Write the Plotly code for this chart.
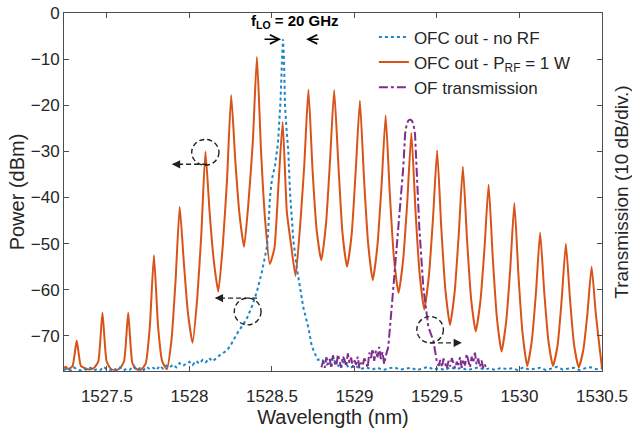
import numpy as np
import plotly.graph_objects as go

# ---------------- data ----------------
# OFC out - P_RF = 1 W  (comb lines spaced ~0.156 nm = 20 GHz)
orange_wl = [
    1527.24, 1527.25,
    1527.267, 1527.292, 1527.317, 1527.342, 1527.367, 1527.395,
    1527.423, 1527.448, 1527.473, 1527.498, 1527.523, 1527.551,
    1527.579, 1527.604, 1527.629, 1527.654, 1527.679, 1527.707,
    1527.735, 1527.760, 1527.785, 1527.810, 1527.835, 1527.863,
    1527.891, 1527.916, 1527.941, 1527.966, 1527.991, 1528.019,
    1528.047, 1528.072, 1528.097, 1528.122, 1528.147, 1528.175,
    1528.203, 1528.228, 1528.253, 1528.278, 1528.303, 1528.331,
    1528.359, 1528.384, 1528.409, 1528.434, 1528.459, 1528.487,
    1528.515, 1528.540, 1528.565, 1528.590, 1528.615, 1528.643,
    1528.671, 1528.696, 1528.721, 1528.746, 1528.771, 1528.799,
    1528.827, 1528.852, 1528.877, 1528.902, 1528.927, 1528.955,
    1528.983, 1529.008, 1529.033, 1529.058, 1529.083, 1529.111,
    1529.139, 1529.164, 1529.189, 1529.214, 1529.239, 1529.267,
    1529.295, 1529.320, 1529.345, 1529.370, 1529.395, 1529.423,
    1529.451, 1529.476, 1529.501, 1529.526, 1529.551, 1529.579,
    1529.607, 1529.632, 1529.657, 1529.682, 1529.707, 1529.735,
    1529.763, 1529.788, 1529.813, 1529.838, 1529.863, 1529.891,
    1529.919, 1529.944, 1529.969, 1529.994, 1530.019, 1530.047,
    1530.075, 1530.100, 1530.125, 1530.150, 1530.175, 1530.203,
    1530.231, 1530.256, 1530.281, 1530.306, 1530.331, 1530.359,
    1530.387, 1530.412, 1530.437, 1530.462, 1530.487, 1530.500,
]
orange_db = [
    -77.0, -76.7,
    -77.2, -76.5, -71.0, -76.5, -77.0, -77.3,
    -76.9, -75.5, -65.0, -75.5, -77.1, -77.4,
    -77.0, -75.5, -65.0, -75.8, -77.2, -77.3,
    -76.0, -68.0, -52.5, -68.0, -75.5, -77.2,
    -71.0, -58.0, -42.0, -54.0, -65.0, -71.5,
    -62.0, -48.0, -30.0, -43.0, -53.5, -60.4,
    -50.0, -36.0, -17.8, -32.0, -43.5, -50.7,
    -40.5, -28.0, -9.5, -30.0, -45.0, -54.4,
    -51.0, -37.0, -23.6, -43.0, -50.0, -57.0,
    -46.0, -33.0, -16.6, -34.0, -47.0, -53.6,
    -46.0, -32.0, -16.7, -32.5, -47.5, -55.0,
    -48.0, -34.0, -19.0, -36.0, -50.0, -57.9,
    -50.5, -37.5, -22.2, -39.0, -53.0, -60.7,
    -53.5, -41.0, -26.0, -43.0, -56.5, -64.3,
    -57.0, -44.5, -29.8, -46.5, -60.0, -67.6,
    -60.5, -48.0, -33.3, -49.0, -62.0, -69.0,
    -62.5, -51.0, -37.2, -53.0, -66.0, -73.4,
    -67.0, -55.5, -41.2, -57.0, -69.5, -76.5,
    -71.0, -60.5, -47.6, -60.5, -71.0, -76.5,
    -72.0, -62.0, -50.0, -62.0, -72.0, -76.8,
    -73.0, -65.0, -55.0, -65.0, -73.0, -76.9,
]

# OFC out - no RF
blue_floor_left_db = [
    -77.4, -77.0, -77.5, -76.8, -77.3, -77.5, -77.1, -77.4, -76.9, -77.5,
    -77.2, -77.4, -76.7, -77.3, -77.5, -77.0, -77.4, -76.8, -77.5, -77.1,
    -77.3, -76.6, -77.4, -77.0, -77.5, -76.7, -77.2, -76.9, -77.4, -76.5,
    -77.1, -76.4, -76.9, -76.2, -76.8, -75.9, -76.5, -76.1, -75.6, -76.3,
    -75.4, -76.0, -75.2, -75.7, -74.8, -75.5, -74.9,
]
blue_floor_left_wl = np.linspace(1527.24, 1528.16, len(blue_floor_left_db))
blue_line_wl = [
    1528.19, 1528.226, 1528.25, 1528.287, 1528.32, 1528.347, 1528.38, 1528.408,
    1528.44, 1528.468, 1528.476, 1528.488, 1528.500, 1528.519, 1528.537,
    1528.552, 1528.561, 1528.567, 1528.573, 1528.579, 1528.590, 1528.599,
    1528.610, 1528.630, 1528.650, 1528.670, 1528.690, 1528.720, 1528.741,
    1528.761, 1528.779,
]
blue_line_db = [
    -74.0, -73.2, -72.0, -69.6, -67.8, -66.3, -63.5, -60.5,
    -56.0, -51.0, -48.0, -40.0, -36.0, -33.0, -28.0,
    -19.0, -10.0, -5.7, -10.0, -20.0, -26.0, -29.8,
    -39.2, -49.3, -55.1, -59.4, -63.8, -68.1, -72.1,
    -73.9, -75.2,
]
blue_floor_right_db = [
    -75.0, -76.2, -74.8, -76.5, -75.6, -77.0, -76.4, -77.2, -76.8, -77.3,
    -76.9, -77.4, -77.0, -76.8, -77.3, -77.1, -76.9, -77.4, -77.0, -76.7,
    -77.3, -77.0, -77.4, -76.8, -77.2, -76.9, -77.4, -77.1, -76.8, -77.3,
    -77.0, -77.4, -76.9, -77.2, -77.0, -77.4, -76.8, -77.3, -77.1, -76.9,
    -77.4, -77.0, -76.7, -77.3, -77.1, -76.9, -77.4, -77.0, -76.8, -77.2, -77.0,
]
blue_floor_right_wl = np.linspace(1528.80, 1530.50, len(blue_floor_right_db))

# OF transmission
purple_floor_left_db = [
    -76.8, -75.5, -76.9, -74.6, -76.2, -75.0, -77.0, -74.2, -75.8, -76.5,
    -74.0, -75.6, -76.9, -74.4, -75.2, -76.6, -73.8, -75.9, -74.7, -76.8,
    -75.3, -76.2, -74.5, -77.0, -75.8, -76.4, -74.9, -75.6, -76.9, -73.6,
    -74.8, -72.8, -75.4, -73.2, -74.6, -72.4, -75.0, -73.5, -76.1, -74.3,
]
purple_floor_left_wl = np.linspace(1528.80, 1529.19, len(purple_floor_left_db))
purple_line_wl = [
    1529.205, 1529.236, 1529.266, 1529.296, 1529.307, 1529.317, 1529.327,
    1529.337, 1529.347, 1529.357, 1529.367, 1529.377, 1529.393, 1529.417,
    1529.448, 1529.478, 1529.499,
]
purple_line_db = [
    -72.4, -59.4, -46.5, -33.4, -26.2, -24.0, -23.3,
    -23.1, -23.3, -24.0, -26.2, -33.4, -46.5, -59.4,
    -68.1, -71.0, -75.5,
]
purple_floor_right_db = [
    -76.5, -75.2, -76.8, -74.9, -76.0, -77.1, -75.4, -76.6, -74.8, -75.9,
    -77.0, -75.6, -76.3, -74.6, -76.9, -75.1, -76.4, -73.9, -75.7, -76.8,
    -74.5, -75.8, -73.6, -76.2, -74.9, -76.7, -75.3, -77.0, -76.2, -77.3,
]
purple_floor_right_wl = np.linspace(1529.51, 1529.80, len(purple_floor_right_db))

x_ticks = [1527.5, 1528, 1528.5, 1529, 1529.5, 1530, 1530.5]
x_tick_text = ["1527.5", "1528", "1528.5", "1529", "1529.5", "1530", "1530.5"]
y_ticks = [0, -10, -20, -30, -40, -50, -60, -70]
x_range = [1527.24, 1530.5]
y_range = [-77.6, 0]

# ---------------- figure ----------------
TXT = "#262626"
FONT = "Liberation Sans, Arial, sans-serif"
ORANGE = "#D95319"
BLUE = "#1a86c8"
PURPLE = "#7E2F8E"

blue_wl = list(blue_floor_left_wl) + blue_line_wl + list(blue_floor_right_wl)
blue_db = blue_floor_left_db + blue_line_db + blue_floor_right_db
purple_wl = list(purple_floor_left_wl) + purple_line_wl + list(purple_floor_right_wl)
purple_db = purple_floor_left_db + purple_line_db + purple_floor_right_db

fig = go.Figure()
fig.add_trace(go.Scatter(x=orange_wl, y=orange_db, mode="lines",
                         name="OFC out - P<sub>RF</sub> = 1 W", legendrank=2,
                         line=dict(color=ORANGE, width=2, shape="spline", smoothing=0.5)))
fig.add_trace(go.Scatter(x=blue_wl, y=blue_db, mode="lines",
                         name="OFC out - no RF", legendrank=1,
                         line=dict(color=BLUE, width=2, dash="dot")))
fig.add_trace(go.Scatter(x=purple_wl, y=purple_db, mode="lines", yaxis="y2",
                         name="OF transmission", legendrank=3,
                         line=dict(color=PURPLE, width=2, dash="dashdot")))

axis_common = dict(showgrid=False, zeroline=False, showline=True, automargin=False,
                   linecolor="#4d4d4d", linewidth=1, ticks="inside",
                   ticklen=5, tickcolor="#4d4d4d", mirror="ticks",
                   tickfont=dict(family=FONT, size=17, color=TXT))

fig.update_layout(
    width=632, height=431,
    margin=dict(l=64, r=30, t=13, b=60),
    paper_bgcolor="white", plot_bgcolor="white",
    font=dict(family=FONT, color=TXT),
    xaxis=dict(range=x_range, tickvals=x_ticks, ticktext=x_tick_text,
               ticklabelstandoff=10,
               title=dict(text="Wavelength (nm)", font=dict(size=20, family=FONT, color=TXT),
                          standoff=0),
               **axis_common),
    yaxis=dict(range=y_range, tickvals=y_ticks,
               title=dict(text="Power (dBm)", font=dict(size=20, family=FONT, color=TXT),
                          standoff=0),
               **axis_common),
    yaxis2=dict(range=y_range, overlaying="y", side="right", showgrid=False,
                zeroline=False, showline=False, ticks="", showticklabels=False,
                automargin=False,
                title=dict(text="Transmission (10 dB/div.)",
                           font=dict(size=19, family=FONT, color=TXT), standoff=22)),
    legend=dict(x=0.576, y=0.982, xanchor="left", yanchor="top",
                bgcolor="rgba(0,0,0,0)", font=dict(size=17, family=FONT, color=TXT),
                itemwidth=30, tracegroupgap=0),
    showlegend=True,
)

# f_LO label and arrows
fig.add_annotation(x=1528.64, y=-1.9, xref="x", yref="y", showarrow=False,
                   text="<b>f<sub>LO</sub> = 20 GHz</b>",
                   font=dict(family=FONT, size=15, color="black"))
fig.add_annotation(x=1528.555, y=-5.7, ax=1528.446, ay=-5.7, axref="x", ayref="y",
                   xref="x", yref="y", showarrow=True, arrowhead=5, arrowsize=1.2,
                   arrowwidth=1.5, arrowcolor="black", text="")
fig.add_annotation(x=1528.707, y=-5.7, ax=1528.792, ay=-5.7, axref="x", ayref="y",
                   xref="x", yref="y", showarrow=True, arrowhead=5, arrowsize=1.2,
                   arrowwidth=1.5, arrowcolor="black", text="")

# dashed circles
for x0, x1, y0, y1 in [(1528.014, 1528.179, -33.0, -27.4),
                       (1528.272, 1528.434, -67.6, -61.8),
                       (1529.378, 1529.539, -71.5, -65.8)]:
    fig.add_shape(type="circle", xref="x", yref="y", x0=x0, x1=x1, y0=y0, y1=y1,
                  line=dict(color="#222", width=1.4, dash="5px,3px"))

# dashed arrows (shaft as dashed line, head as annotation)
for xs, xe, yv, d in [(1528.107, 1527.90, -32.8, 1),
                      (1528.41, 1528.16, -61.8, 1),
                      (1529.458, 1529.645, -71.5, -1)]:
    fig.add_shape(type="line", xref="x", yref="y", x0=xs, x1=xe, y0=yv, y1=yv,
                  line=dict(color="#222", width=1.4, dash="5px,3px"))
    fig.add_annotation(x=xe - d * 0.006, y=yv, xref="x", yref="y", ax=d * 8, ay=0,
                       showarrow=True, arrowhead=2, arrowsize=1.1, arrowwidth=1.5,
                       arrowcolor="#222", text="")

fig.write_html("out.html")
